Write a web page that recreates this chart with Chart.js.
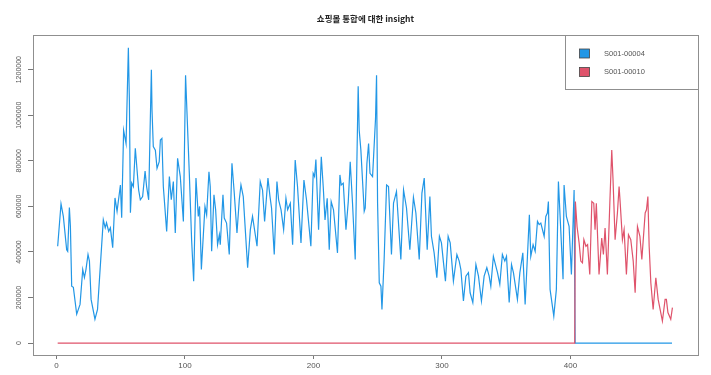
<!DOCTYPE html>
<html lang="ko">
<head>
<meta charset="UTF-8">
<title>쇼핑몰 통합에 대한 insight</title>
<script src="https://cdn.jsdelivr.net/npm/chart.js"></script>
<style>
  body { margin: 0; background: #fff; }
  #wrap { width: 711px; height: 375px; }
</style>
</head>
<body>
<div id="wrap"><canvas id="insightChart" width="711" height="375"></canvas></div>

<script>
// ---- data (values in thousands) ----
const blueX = [1, 3.6, 5.4, 8, 8.8, 10.1, 10.9, 11.9, 13.2, 15.8, 18.4, 20.5, 21.8, 23, 24.6, 25.7, 27, 30, 32,
  36.5, 38, 39, 40.7, 42, 43.8, 45.6, 47.2, 49.8, 50.8, 52.3, 54.2, 56, 56.8, 57.6, 58.6, 59.9, 61.4, 64, 65.3,
  67.1, 69, 70.2, 71.8, 72.8, 73.9, 74.4, 75.4, 77, 78.3, 80, 80.9, 82.1, 83.2, 85.8, 87.9, 89.4, 91, 92.5, 94.3,
  96.4, 98.8, 100.5, 103.4, 105.2, 106.8, 108.6, 110.4, 111.4, 112.8, 115.6, 116.9, 118.7, 119.7, 120.8, 122.6,
  123.9, 125.4, 126.8, 127.5, 129.6, 130.6, 132.4, 134.5, 136.6, 138.4, 140.5, 142.3, 143.6, 145.4, 148.8, 150.9,
  152.6, 156.1, 158.6, 160.4, 162, 164.6, 166.2, 167.4, 169.5, 171.6, 172.9, 174.8, 176.8, 178.6, 179.9, 182,
  183.8, 185.8, 187.6, 190.3, 192.6, 194.6, 198, 199.8, 200.9, 201.9, 204, 206.1, 207.6, 209, 210.7, 212.3, 213.8,
  215.6, 218.7, 220.6, 221.6, 223.2, 225.3, 227.1, 228.6, 230.4, 232.5, 234.8, 235.6, 236.9, 239.5, 240.3, 241.6,
  242.9, 244, 246, 248.3, 249.1, 249.9, 251.2, 252.5, 253.3, 255, 256.9, 258.4, 260.7, 262.3, 264.6, 268, 270.1,
  272.4, 275, 277.8, 279.7, 282.3, 284.4, 286.2, 288.5, 290.6, 291.8, 293.9, 296, 298, 299.6, 301.2, 302.7, 304.8,
  306.4, 308.9, 311.6, 313.4, 314.7, 316.7, 318.6, 320.6, 321.9, 324, 326.4, 328.4, 330.7, 332.8, 334.9, 336.7,
  338, 340, 341.9, 343.2, 345, 347, 348.9, 350.2, 352.3, 354.1, 355.6, 358.7, 360.6, 362.9, 364.7, 366.5, 368,
  369.1, 370.9, 372.5, 374.3, 375.6, 376.9, 379.5, 380.8, 382, 382.8, 384.1, 387, 389, 390.6, 392.4, 394.2, 395,
  396.8, 398.9, 400.7, 402.8, 403.6, 479];
const blueY = [425, 611, 556, 410, 403, 595, 512, 250, 245, 127, 170, 323, 288, 323, 389, 360, 192, 105, 148,
  541, 506, 528, 490, 506, 419, 637, 578, 694, 550, 934, 876, 1296, 1065, 572, 703, 687, 855, 672, 629,
  643, 755, 687, 629, 905, 1200, 1022, 862, 847, 767, 796, 891, 898, 687, 490, 731, 629, 709, 483, 811,
  731, 534, 1175, 747, 454, 272, 724, 556, 600, 323, 600, 563, 752, 687, 403, 651,
  585, 432, 476, 432, 651, 549, 527, 389, 789, 658, 483, 629, 694, 643, 331, 498,
  556, 425, 709, 672, 534, 724, 643, 593, 389, 709, 629, 585, 498, 636, 585, 614,
  432, 803, 687, 440, 716, 629, 425, 745, 731, 806, 498, 818, 687, 541, 636, 410, 621,
  585, 396, 738, 694, 702, 498, 621, 796, 614, 367, 1127, 934, 847, 578, 593, 789,
  876, 745, 731, 985, 1175, 614, 265, 250, 148, 367, 694, 687, 389, 614, 665, 367, 672,
  593, 410, 640, 571, 367, 658, 724, 410, 643, 469, 396, 287, 469, 440, 352, 272, 469,
  440, 272, 389, 360, 323, 185, 294, 309, 221, 178, 345, 294, 185, 294, 331, 294,
  250, 381, 338, 309, 258, 389, 360, 381, 178, 345, 309, 192, 309, 396, 170, 381, 563,
  381, 432, 403, 534, 520, 527, 469, 556, 571, 621, 236, 119, 236, 709, 498, 280, 694,
  556, 512, 301, 672, 0, 0];

const redX = [1, 403.3, 403.8, 405.1, 406.7, 408, 409.3, 410.4, 412, 413.3, 415, 416.6, 418.1, 419.1, 420.1,
  422.2, 424.3, 425.6, 426.9, 428.7, 430.6, 432.1, 433.1, 434.7, 436.5, 437.8, 438.6, 440.4, 441.7, 443.5,
  445.1, 446.9, 448.8, 450.3, 452.1, 454, 455.5, 458.1, 459.1, 460.2, 461.2, 462.5, 464.3, 466.4, 468.2,
  471.5, 473.6, 474.6, 475.8, 478, 479.3];
const redY = [0, 0, 621, 512, 440, 360, 352, 454, 425, 432, 301, 621, 614, 498, 614,
  301, 461, 389, 505, 301, 614, 847, 716, 454, 571, 687, 621, 454, 498, 301,
  476, 454, 360, 221, 512, 469, 367, 571, 585, 643, 425, 265, 148, 287, 192,
  97, 192, 192, 134, 105, 156];

const seriesNames = ['S001-00004', 'S001-00010'];
const seriesColors = ['#2297E6', '#DF536B'];
const xTicks = [0, 100, 200, 300, 400];
const yTicks = [0, 200000, 400000, 600000, 800000, 1000000, 1200000];
const chartTitle = '쇼핑몰 통합에 대한 insight';

const toPoints = (xs, ys) => xs.map((x, i) => ({ x: x, y: ys[i] * 1000 }));

// R style frame, rotated y labels, legend and title
const rStyle = {
  id: 'rStyle',
  afterDraw(chart) {
    const c = chart.ctx;
    const a = chart.chartArea;
    const ys = chart.scales.y;
    c.save();
    // box
    c.strokeStyle = '#8f8f8f';
    c.lineWidth = 1;
    c.strokeRect(a.left + 0.5, a.top + 0.5, a.right - a.left, a.bottom - a.top);

    // y labels, rotated
    c.fillStyle = '#555';
    c.font = '7px "Liberation Sans", Arial, sans-serif';
    c.textAlign = 'center';
    c.textBaseline = 'middle';
    yTicks.forEach(v => {
      const py = ys.getPixelForValue(v);
      c.save();
      c.translate(19, py);
      c.rotate(-Math.PI / 2);
      c.fillText(String(v), 0, 0);
      c.restore();
    });

    // legend
    const lx = 565, ly = 35, lw = a.right - 565, lh = 54;
    c.fillStyle = '#fff';
    c.fillRect(lx, ly, lw, lh);
    c.strokeStyle = '#8f8f8f';
    c.strokeRect(lx + 0.5, ly + 0.5, lw, lh);
    seriesNames.forEach((name, i) => {
      const cy = 53.5 + i * 18.5;
      c.fillStyle = seriesColors[i];
      c.fillRect(579.5, cy - 4.5, 10, 9);
      c.strokeStyle = '#444';
      c.lineWidth = 0.8;
      c.strokeRect(579.5, cy - 4.5, 10, 9);
      c.fillStyle = '#555';
      c.font = '7.5px "Liberation Sans", Arial, sans-serif';
      c.textAlign = 'left';
      c.fillText(name, 604, cy);
    });

    // title
    c.fillStyle = '#222';
    c.font = 'bold 8.5px "Noto Sans CJK KR", "Liberation Sans", sans-serif';
    c.textAlign = 'center';
    c.fillText(chartTitle, (a.left + a.right) / 2, 19);
    c.restore();
  }
};

const ctx = document.getElementById('insightChart').getContext('2d');

const insightChart = new Chart(ctx, {
  type: 'line',
  data: {
    datasets: [{
      label: seriesNames[0],
      data: toPoints(blueX, blueY),
      borderColor: seriesColors[0],
      borderWidth: 1.2,
      pointRadius: 0,
      tension: 0,
      order: 1
    }, {
      label: seriesNames[1],
      data: toPoints(redX, redY),
      borderColor: seriesColors[1],
      borderWidth: 1.2,
      pointRadius: 0,
      tension: 0,
      order: 0
    }]
  },
  options: {
    responsive: false,
    animation: false,
    layout: { padding: { left: 0, top: 35, right: 13, bottom: 0 } },
    plugins: {
      legend: { display: false },
      title: { display: false },
      tooltip: { enabled: false }
    },
    scales: {
      x: {
        type: 'linear',
        min: -18.2,
        max: 499.2,
        afterBuildTicks: s => { s.ticks = xTicks.map(v => ({ value: v })); },
        afterFit: s => { s.height = 20; },
        grid: { drawOnChartArea: false, tickLength: 4, color: '#777' },
        border: { display: false },
        ticks: {
          color: '#555',
          padding: 2,
          maxRotation: 0,
          font: { family: '"Liberation Sans", Arial, sans-serif', size: 8 }
        }
      },
      y: {
        type: 'linear',
        min: -52000,
        max: 1352000,
        afterBuildTicks: s => { s.ticks = yTicks.map(v => ({ value: v })); },
        afterFit: s => { s.width = 33; },
        grid: { drawOnChartArea: false, tickLength: 5, color: '#777' },
        border: { display: false },
        ticks: { display: false }
      }
    }
  },
  plugins: [rStyle]
});
</script>
</body>
</html>
